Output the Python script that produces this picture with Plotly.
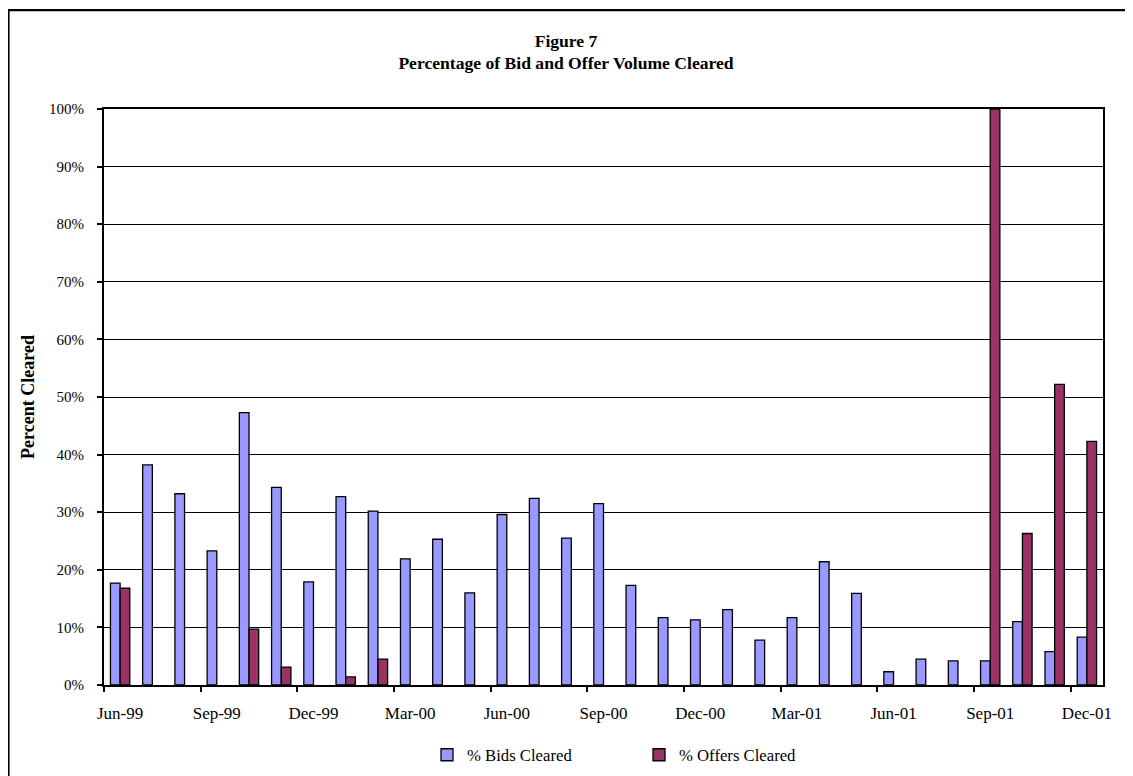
import plotly.graph_objects as go

months = ["Jun-99", "Jul-99", "Aug-99", "Sep-99", "Oct-99", "Nov-99", "Dec-99",
          "Jan-00", "Feb-00", "Mar-00", "Apr-00", "May-00", "Jun-00", "Jul-00",
          "Aug-00", "Sep-00", "Oct-00", "Nov-00", "Dec-00", "Jan-01", "Feb-01",
          "Mar-01", "Apr-01", "May-01", "Jun-01", "Jul-01", "Aug-01", "Sep-01",
          "Oct-01", "Nov-01", "Dec-01"]

bids_cleared = [0.177, 0.382, 0.332, 0.233, 0.473, 0.343, 0.179,
                0.327, 0.302, 0.219, 0.253, 0.160, 0.296, 0.324,
                0.255, 0.315, 0.173, 0.117, 0.113, 0.131, 0.078,
                0.117, 0.214, 0.159, 0.023, 0.045, 0.042, 0.042,
                0.110, 0.058, 0.083]

offers_cleared = [0.168, None, None, None, 0.097, 0.031, None,
                  0.014, 0.045, None, None, None, None, None,
                  None, None, None, None, None, None, None,
                  None, None, None, None, None, None, 1.000,
                  0.263, 0.522, 0.423]

tick_labels = ["Jun-99", "Sep-99", "Dec-99", "Mar-00", "Jun-00", "Sep-00",
               "Dec-00", "Mar-01", "Jun-01", "Sep-01", "Dec-01"]

idx = list(range(len(months)))
label_pos = [i for i, m in enumerate(months) if m in tick_labels]
tick_pos = [p - 0.5 for p in label_pos]

FONT = "Liberation Serif, Times New Roman, serif"

W, H = 1133, 776
L, R, T, B = 96, 38, 101, 90
PW, PH = W - L - R, H - T - B


def px(xf):
    return (xf - L) / PW


def py(yf):
    return (H - B - yf) / PH


fig = go.Figure()
fig.add_trace(go.Bar(x=idx, y=bids_cleared, name="% Bids Cleared",
                     marker=dict(color="#9999FF", line=dict(color="black", width=1.3)),
                     customdata=months, hovertemplate="%{customdata}: %{y:.1%}<extra></extra>"))
fig.add_trace(go.Bar(x=idx, y=offers_cleared, name="% Offers Cleared",
                     marker=dict(color="#993366", line=dict(color="black", width=1.3)),
                     customdata=months, hovertemplate="%{customdata}: %{y:.1%}<extra></extra>"))
# invisible trace that carries the month-label axis
fig.add_trace(go.Bar(x=idx, y=[None] * len(idx), xaxis="x2", showlegend=False, hoverinfo="skip"))

fig.update_layout(
    width=W, height=H,
    paper_bgcolor="white", plot_bgcolor="white",
    barmode="group", bargap=0.4, bargroupgap=0,
    margin=dict(l=L, r=R, t=T, b=B),
    font=dict(family=FONT, color="black", size=15),
    title=dict(text="<b>Figure 7</b><br><b>Percentage of Bid and Offer Volume Cleared</b>",
               x=558 / W, xanchor="center", xref="container", y=1 - 38.5 / H, yanchor="middle",
               font=dict(family=FONT, size=17.6, color="black")),
    xaxis=dict(range=[-0.5, len(months) - 0.5], tickmode="array", tickvals=tick_pos,
               ticktext=[""] * len(tick_pos), ticks="outside", ticklen=5, tickcolor="black",
               tickwidth=1.5, showgrid=False, showline=True, linecolor="black", linewidth=2,
               mirror=True, zeroline=False, fixedrange=True),
    xaxis2=dict(range=[-0.5, len(months) - 0.5], overlaying="x", side="bottom",
                tickmode="array", tickvals=label_pos, ticktext=tick_labels,
                ticks="", showgrid=False, showline=False, zeroline=False,
                tickfont=dict(size=17), ticklabelstandoff=16, anchor="y"),
    yaxis=dict(range=[0, 1], dtick=0.1, tickformat=".0%", ticks="outside", ticklen=5,
               tickcolor="black", tickwidth=1.5, showgrid=True, gridcolor="black",
               gridwidth=1.2, showline=True, linecolor="black", linewidth=2, mirror=True,
               zeroline=False, tickfont=dict(size=15), ticklabelstandoff=10,
               title=dict(text="<b>Percent Cleared</b>", font=dict(size=18), standoff=10)),
    legend=dict(orientation="h", x=px(419), xanchor="left", y=py(757), yanchor="middle",
                font=dict(size=16.7), entrywidth=167, entrywidthmode="pixels",
                traceorder="normal", bgcolor="rgba(0,0,0,0)"),
    showlegend=True,
)

# outer chart-area frame (right and bottom edges fall outside the picture)
fig.add_shape(type="rect", xref="paper", yref="paper",
              x0=px(0.5), x1=px(1150), y0=py(800), y1=py(0.5),
              line=dict(color="black", width=2.2), fillcolor="rgba(0,0,0,0)", layer="below")

fig.write_html("out.html")
